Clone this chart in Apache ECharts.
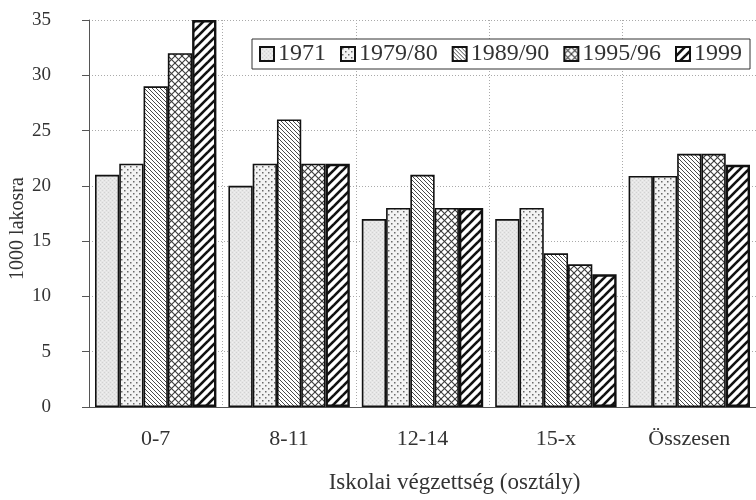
<!DOCTYPE html>
<html>
<head>
<meta charset="utf-8">
<script src="https://cdn.jsdelivr.net/npm/echarts@6/dist/echarts.min.js"></script>
<style>
  html, body { margin: 0; padding: 0; background: #fff; }
  #chart { width: 756px; height: 500px; }
</style>
</head>
<body>
<div id="chart"></div>
<script>
// Education level groups (school grades completed)
const categories = ['0-7', '8-11', '12-14', '15-x', 'Összesen'];

// Rate per 1000 inhabitants, by census year
const years = ['1971', '1979/80', '1989/90', '1995/96', '1999'];
const v1971   = [21, 20, 17, 17, 20.9];
const v1979   = [22, 22, 18, 18, 20.9];
const v1989   = [29, 26, 21, 13.9, 22.9];
const v1995   = [32, 22, 18, 12.9, 22.9];
const v1999   = [35, 22, 18, 12, 21.9];
const seriesValues = [v1971, v1979, v1989, v1995, v1999];

const yTicks = [0, 5, 10, 15, 20, 25, 30, 35];

// ---- hatch / stipple fills ----
function tile(size, draw) {
  const c = document.createElement('canvas');
  c.width = size; c.height = size;
  const ctx = c.getContext('2d');
  draw(ctx, size);
  return { image: c, repeat: 'repeat' };
}
function diag(ctx, s, dir) {
  // dir 1: "/" ; dir -1: "\"
  for (let k = -1; k <= 1; k++) {
    ctx.beginPath();
    if (dir > 0) { ctx.moveTo(-1 + k * s, s + 1); ctx.lineTo(s + 1 + k * s, -1); }
    else { ctx.moveTo(-1 + k * s, -1); ctx.lineTo(s + 1 + k * s, s + 1); }
    ctx.stroke();
  }
}
const fills = [
  // light grey stipple
  tile(4, (ctx, s) => {
    ctx.fillStyle = '#e6e6e6'; ctx.fillRect(0, 0, s, s);
    ctx.fillStyle = '#d2d2d2';
    ctx.fillRect(0, 0, 1, 1); ctx.fillRect(2, 2, 1, 1);
    ctx.fillStyle = '#f0f0f0';
    ctx.fillRect(2, 0, 1, 1); ctx.fillRect(0, 2, 1, 1);
  }),
  // dots
  tile(6, (ctx, s) => {
    ctx.fillStyle = '#f3f3f3'; ctx.fillRect(0, 0, s, s);
    ctx.fillStyle = '#6a6a6a';
    ctx.fillRect(1, 1, 1.5, 1.5); ctx.fillRect(4, 4, 1.5, 1.5);
  }),
  // thin back-slash lines
  tile(4, (ctx, s) => {
    ctx.fillStyle = '#fff'; ctx.fillRect(0, 0, s, s);
    ctx.strokeStyle = '#4a4a4a'; ctx.lineWidth = 1;
    diag(ctx, s, -1);
  }),
  // cross hatch
  tile(7, (ctx, s) => {
    ctx.fillStyle = '#fff'; ctx.fillRect(0, 0, s, s);
    ctx.strokeStyle = '#3a3a3a'; ctx.lineWidth = 1.1;
    diag(ctx, s, 1); diag(ctx, s, -1);
  }),
  // heavy forward-slash lines
  tile(9, (ctx, s) => {
    ctx.fillStyle = '#fff'; ctx.fillRect(0, 0, s, s);
    ctx.strokeStyle = '#111'; ctx.lineWidth = 2.6;
    diag(ctx, s, 1);
  })
];
const borderWidths = [1.6, 1.6, 1.6, 1.6, 2.4];

const textColor = '#333';
const serif = '"Liberation Serif", "DejaVu Serif", serif';

const chart = echarts.init(document.getElementById('chart'), null, { renderer: 'canvas' });

chart.setOption({
  animation: false,
  backgroundColor: '#fff',
  textStyle: { fontFamily: serif, color: textColor },
  grid: { left: 89, right: 0, top: 20, bottom: 93, containLabel: false, outerBoundsMode: 'none' },
  legend: {
    data: years,
    left: 252,
    top: 39,
    padding: [3, 8, 3, 7],
    itemWidth: 14,
    itemHeight: 14,
    itemGap: 14,
    icon: 'rect',
    borderColor: '#333',
    borderWidth: 1,
    backgroundColor: '#fff',
    textStyle: { fontFamily: serif, fontSize: 24, color: textColor, padding: [0, 0, 0, -1] }
  },
  xAxis: {
    type: 'category',
    data: categories,
    name: 'Iskolai végzettség (osztály)',
    nameLocation: 'middle',
    nameGap: 64,
    nameMoveOverlap: false,
    nameTextStyle: { fontFamily: serif, fontSize: 23, color: textColor, padding: [0, 0, 0, 64] },
    axisLine: { lineStyle: { color: '#555', width: 1 } },
    axisTick: { show: false },
    axisLabel: { fontFamily: serif, fontSize: 22, color: textColor, margin: 21 },
    splitLine: { show: true, lineStyle: { color: '#aaa', type: [1, 2], width: 1 } }
  },
  yAxis: {
    type: 'value',
    min: yTicks[0],
    max: yTicks[yTicks.length - 1],
    interval: 5,
    name: '1000 lakosra',
    nameLocation: 'middle',
    nameGap: 61,
    nameRotate: 90,
    nameMoveOverlap: false,
    nameTextStyle: { fontFamily: serif, fontSize: 20, color: textColor, padding: [0, 30, 0, 0] },
    axisLine: { show: true, lineStyle: { color: '#555', width: 1 } },
    axisTick: { show: true, inside: false, length: 7, lineStyle: { color: '#555' } },
    axisLabel: { fontFamily: serif, fontSize: 19, color: textColor, margin: 38 },
    splitLine: { show: true, lineStyle: { color: '#aaa', type: [1, 2], width: 1 } }
  },
  series: years.map((name, i) => ({
    name: name,
    type: 'bar',
    data: seriesValues[i],
    barGap: '0%',
    barCategoryGap: '9%',
    itemStyle: {
      color: fills[i],
      borderColor: '#111',
      borderWidth: borderWidths[i]
    }
  }))
});
</script>
</body>
</html>
